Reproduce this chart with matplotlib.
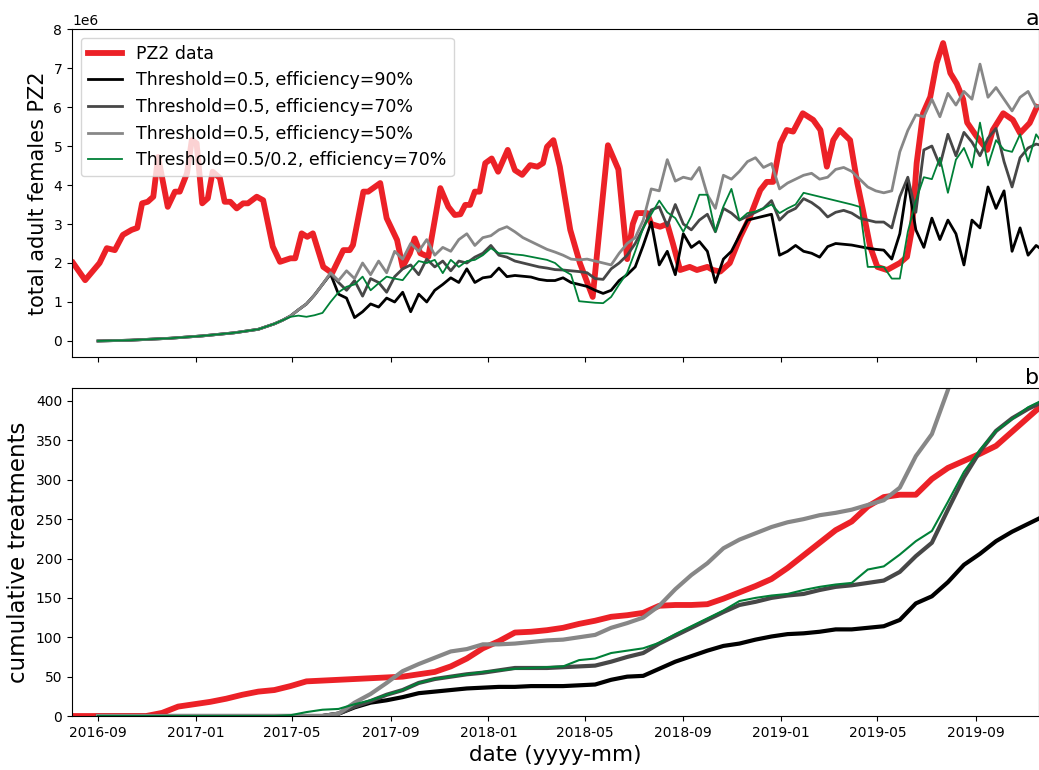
import numpy as np
import pandas as pd
import matplotlib
matplotlib.use("Agg")
import matplotlib.pyplot as plt
import matplotlib.dates as mdates

BASE = pd.Timestamp("2016-09-01")

# ---------------- panel a : adult females (millions) ----------------
# PZ2 observed data: days since 2016-09-01 and value (x1e6)
red_day = [-31, -16, 2, 11, 21, 31, 42, 49, 55, 62,
           69, 75, 87, 96, 102, 111, 117, 123, 130, 137,
           143, 152, 158, 165, 173, 181, 187, 198, 206, 218,
           227, 240, 246, 254, 261, 268, 281, 292, 306, 314,
           318, 331, 337, 352, 360, 373, 380, 389, 395, 402,
           412, 427, 437, 445, 452, 458, 464, 470, 476, 483,
           491, 499, 511, 520, 529, 539, 548, 555, 560, 568,
           576, 589, 601, 617, 636, 649, 660, 667, 672, 685,
           690, 701, 710, 717, 726, 738, 747, 760, 767, 776,
           788, 801, 813, 826, 834, 842, 851, 859, 867, 879,
           892, 901, 909, 917, 925, 938, 947, 954, 963, 972,
           984, 1000, 1009, 1015, 1021, 1029, 1038, 1046, 1054, 1063,
           1071, 1079, 1084, 1096, 1109, 1116, 1129, 1141, 1150, 1162,
           1171]
red_val = [2.0, 1.56, 2.0, 2.38, 2.33, 2.72, 2.85, 2.9, 3.53, 3.57,
           3.7, 4.72, 3.44, 3.83, 3.83, 4.3, 5.15, 5.07, 3.53, 3.66,
           4.34, 4.18, 3.57, 3.57, 3.4, 3.53, 3.53, 3.7, 3.61, 2.42,
           2.03, 2.12, 2.12, 2.76, 2.67, 2.76, 1.9, 1.74, 2.33, 2.33,
           2.46, 3.83, 3.83, 4.05, 3.15, 2.59, 1.9, 2.25, 2.63, 2.25,
           2.16, 3.92, 3.44, 3.23, 3.25, 3.49, 3.49, 3.83, 3.83, 4.56,
           4.68, 4.34, 4.9, 4.38, 4.26, 4.51, 4.47, 4.56, 4.98, 5.15,
           4.47, 2.85, 2.0, 1.13, 5.02, 4.40, 2.10, 3.0, 3.28, 3.28,
           3.0, 2.93, 3.0, 2.5, 1.82, 1.9, 1.82, 1.9, 1.82, 1.78,
           2.0, 2.67, 3.18, 3.87, 4.08, 4.08, 5.07, 5.41, 5.37, 5.84,
           5.67, 5.41, 4.47, 5.15, 5.41, 5.15, 4.05, 3.36, 2.42, 1.9,
           1.82, 2.0, 2.16, 2.85, 4.56, 5.84, 6.26, 7.13, 7.64, 6.87,
           6.6, 6.2, 5.6, 5.24, 4.9, 5.41, 5.84, 5.67, 5.33, 5.59,
           6.0]

# simulations, sampled every 10 days from 2016-09-01
sim_day = np.arange(0, 1181, 10)
early = [0.00, 0.005, 0.01, 0.015, 0.02, 0.03, 0.04, 0.05, 0.06, 0.07,
         0.085, 0.10, 0.115, 0.13, 0.15, 0.17, 0.19, 0.21, 0.24, 0.27,
         0.30, 0.37, 0.44, 0.53]
early_rest = [0.64, 0.80, 0.95, 1.18, 1.45]

e90_tail = [1.72, 1.20, 1.10, 0.60, 0.75, 0.95, 0.87, 1.10, 1.00, 1.25,
            0.75, 1.20, 1.00, 1.30, 1.45, 1.62, 1.50, 1.85, 1.50, 1.62,
            1.65, 1.87, 1.65, 1.68, 1.66, 1.64, 1.58, 1.55, 1.55, 1.62,
            1.50, 1.45, 1.40, 1.30, 1.22, 1.30, 1.55, 1.70, 1.90, 2.45,
            3.05, 1.95, 2.30, 1.70, 2.75, 2.40, 2.55, 2.30, 1.50, 2.10,
            2.30, 2.70, 3.10, 3.15, 3.20, 3.25, 2.20, 2.30, 2.45, 2.30,
            2.25, 2.15, 2.42, 2.50, 2.48, 2.46, 2.42, 2.38, 2.35, 2.33,
            2.10, 2.75, 4.10, 2.85, 2.40, 3.15, 2.60, 3.10, 2.75, 1.95,
            3.10, 2.90, 3.95, 3.40, 3.85, 2.30, 2.90, 2.20, 2.45, 2.30]
e70_tail = [1.72, 1.50, 1.30, 1.55, 1.15, 1.60, 1.50, 1.25, 1.65, 1.85,
            1.95, 1.70, 2.10, 1.90, 2.05, 1.80, 2.05, 2.00, 2.15, 2.25,
            2.45, 2.20, 2.15, 2.05, 2.00, 1.95, 1.90, 1.87, 1.83, 1.82,
            1.80, 1.78, 1.75, 1.60, 1.58, 1.85, 2.00, 2.20, 2.50, 2.90,
            3.36, 3.44, 2.95, 3.50, 3.00, 2.85, 3.10, 3.25, 2.80, 3.40,
            3.28, 3.10, 3.20, 3.30, 3.40, 3.60, 3.10, 3.30, 3.40, 3.65,
            3.55, 3.40, 3.18, 3.30, 3.35, 3.28, 3.15, 3.10, 3.05, 3.05,
            2.90, 3.70, 4.20, 3.30, 4.90, 5.00, 4.50, 5.30, 4.75, 5.35,
            5.10, 4.75, 5.20, 5.45, 4.60, 3.95, 4.70, 4.95, 5.05, 5.00]
e50_tail = [1.75, 1.55, 1.80, 1.60, 2.00, 1.70, 2.05, 1.75, 2.30, 2.10,
            2.50, 2.30, 2.60, 2.20, 2.40, 2.30, 2.60, 2.75, 2.45, 2.65,
            2.70, 2.85, 2.93, 2.80, 2.65, 2.55, 2.45, 2.35, 2.28, 2.20,
            2.10, 2.08, 2.10, 2.05, 2.00, 1.95, 2.25, 2.50, 2.65, 3.10,
            3.90, 3.85, 4.65, 4.10, 4.20, 4.15, 4.45, 3.75, 3.40, 4.25,
            4.15, 4.35, 4.60, 4.70, 4.45, 4.55, 3.90, 4.05, 4.15, 4.25,
            4.30, 4.15, 4.20, 4.40, 4.45, 4.35, 4.15, 3.95, 3.85, 3.80,
            3.85, 4.85, 5.40, 5.80, 5.75, 6.20, 5.75, 6.35, 6.05, 6.40,
            6.20, 7.10, 6.25, 6.50, 6.20, 5.90, 6.25, 6.40, 6.00, 6.10]
g70_tail = [0.62, 0.65, 0.62, 0.66, 0.72,
            1.00, 1.25, 1.39, 1.45, 1.65, 1.30, 1.48, 1.65, 1.60, 1.56,
            1.82, 2.05, 2.00, 2.08, 1.74, 2.08, 1.90, 2.05, 2.08, 2.20,
            2.38, 2.25, 2.25, 2.22, 2.20, 2.16, 2.12, 2.08, 2.00, 1.82,
            1.70, 1.02, 1.00, 0.98, 0.97, 1.13, 1.45, 1.75, 2.30, 2.90,
            3.25, 3.60, 3.30, 3.15, 2.80, 3.20, 3.75, 3.75, 2.80, 3.45,
            3.90, 3.10, 3.28, 3.32, 3.40, 3.50, 3.28, 3.40, 3.50, 3.80,
            3.75, 3.70, 3.65, 3.60, 3.55, 3.50, 3.44, 1.90, 1.90, 1.90,
            1.60, 1.60, 2.80, 3.60, 4.20, 4.15, 4.70, 3.80, 4.65, 4.95,
            4.45, 5.60, 4.50, 5.15, 4.90, 4.85, 5.30, 4.60, 5.30, 5.00]

e90 = early + early_rest + e90_tail
e70 = early + early_rest + e70_tail
e50 = early + early_rest + e50_tail
g70 = early + g70_tail

# ---------------- panel b : cumulative treatments ----------------
red_cum_day = np.arange(-40, 1181, 20)
red_cum = [0, 0, 0, 0, 0, 0, 4, 12, 15, 18,
           22, 27, 31, 33, 38, 44, 45, 46, 47, 48,
           49, 50, 53, 56, 63, 73, 86, 95, 106, 107,
           109, 112, 117, 121, 126, 128, 131, 140, 141, 141,
           142, 149, 157, 165, 174, 188, 204, 220, 236, 247,
           266, 278, 281, 281, 301, 315, 324, 333, 343, 361,
           379, 397]

sim_cum_day = np.arange(0, 1181, 20)
c90 = [0] * 15 + [3, 11, 17, 20, 24, 29, 31, 33, 35, 36,
                  37, 37, 38, 38, 38, 39, 40, 46, 50, 51,
                  60, 69, 76, 83, 89, 92, 97, 101, 104, 105,
                  107, 110, 110, 112, 114, 122, 143, 152, 170, 192,
                  206, 222, 234, 244, 254]
c70 = [0] * 15 + [3, 12, 19, 27, 33, 42, 47, 50, 53, 55,
                  58, 61, 61, 61, 62, 63, 64, 69, 75, 80,
                  92, 102, 112, 122, 132, 141, 145, 150, 153, 155,
                  160, 164, 166, 169, 172, 183, 203, 220, 262, 303,
                  336, 362, 378, 390, 400]
c50 = [0] * 15 + [3, 17, 28, 42, 57, 66, 74, 82, 85, 91,
                  91, 92, 94, 96, 97, 100, 103, 112, 118, 125,
                  140, 161, 179, 194, 213, 224, 232, 240, 246, 250,
                  255, 258, 262, 268, 274, 290, 330, 358, 414, 480,
                  np.nan, np.nan, np.nan, np.nan, np.nan]
cg70 = [0] * 12 + [1, 5, 8, 9, 15, 20, 27, 33, 42, 47,
                   50, 53, 56, 58, 60, 61, 62, 63, 71, 73,
                   80, 83, 86, 93, 104, 114, 124, 134, 146, 150,
                   153, 155, 160, 164, 167, 169, 186, 190, 205, 222,
                   235, 272, 310, 338, 362, 377, 392, 402]

labels = ["PZ2 data",
          "Threshold=0.5, efficiency=90%",
          "Threshold=0.5, efficiency=70%",
          "Threshold=0.5, efficiency=50%",
          "Threshold=0.5/0.2, efficiency=70%"]


def to_dates(days):
    return BASE + pd.to_timedelta(np.asarray(days, dtype=float), unit="D")


RED = "#ec2127"
BLACK = "#000000"
DGRAY = "#474747"
LGRAY = "#878787"
GREEN = "#008037"

fig = plt.figure(figsize=(10.39, 7.70), dpi=100)
ax1 = fig.add_axes([0.0693, 0.5364, 0.9307, 0.4259])
ax2 = fig.add_axes([0.0693, 0.0701, 0.9307, 0.4260], sharex=ax1)

# panel a
ax1.plot(to_dates(red_day), np.array(red_val) * 1e6, color=RED, lw=4.2, label=labels[0])
ax1.plot(to_dates(sim_day), np.array(e90) * 1e6, color=BLACK, lw=2.0, label=labels[1])
ax1.plot(to_dates(sim_day), np.array(e70) * 1e6, color=DGRAY, lw=2.0, label=labels[2])
ax1.plot(to_dates(sim_day), np.array(e50) * 1e6, color=LGRAY, lw=2.0, label=labels[3])
ax1.plot(to_dates(sim_day), np.array(g70) * 1e6, color=GREEN, lw=1.3, label=labels[4])
ax1.set_ylim(-0.41e6, 8.0e6)
ax1.set_yticks(np.arange(0, 8.01e6, 1e6))
ax1.set_ylabel("total adult females PZ2", fontsize=15)
ax1.legend(loc="upper left", fontsize=12.5, borderaxespad=0.5)
ax1.set_title("a", loc="right", fontsize=16, pad=2)
plt.setp(ax1.get_xticklabels(), visible=False)

# panel b
ax2.plot(to_dates(red_cum_day), red_cum, color=RED, lw=4.2)
ax2.plot(to_dates(sim_cum_day), c90, color=BLACK, lw=3.0)
ax2.plot(to_dates(sim_cum_day), c70, color=DGRAY, lw=3.0)
ax2.plot(to_dates(sim_cum_day), c50, color=LGRAY, lw=3.0)
ax2.plot(to_dates(sim_cum_day), cg70, color=GREEN, lw=1.5)
ax2.set_ylim(0, 416.5)
ax2.set_yticks(np.arange(0, 401, 50))
ax2.set_ylabel("cumulative treatments", fontsize=16.5)
ax2.set_xlabel("date (yyyy-mm)", fontsize=15.5)
ax2.set_title("b", loc="right", fontsize=16, pad=2)

ax2.set_xlim(to_dates([-32.4])[0], to_dates([1173.6])[0])
ax2.xaxis.set_major_locator(mdates.MonthLocator(bymonth=[1, 5, 9]))
ax2.xaxis.set_major_formatter(mdates.DateFormatter("%Y-%m"))
for ax in (ax1, ax2):
    ax.tick_params(labelsize=10)

fig.savefig("out.png", dpi=100)
